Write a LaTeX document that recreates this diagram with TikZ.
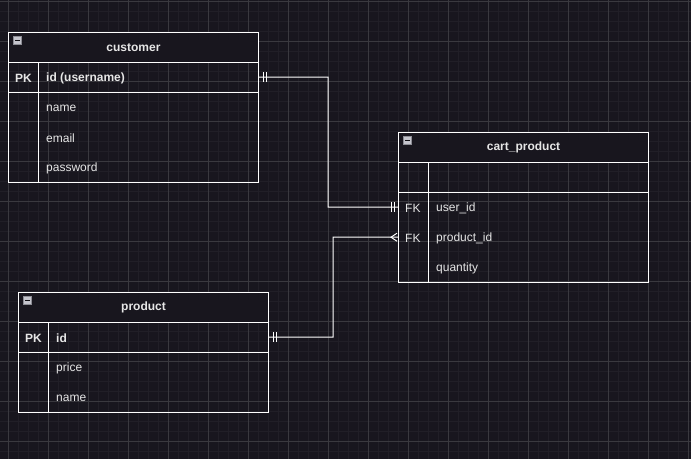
\documentclass[tikz,border=0pt]{standalone}
\usepackage{fontspec}
\setmainfont{Liberation Sans}
\definecolor{bg}{HTML}{18161E}
\definecolor{gmaj}{HTML}{3A393F}
\definecolor{gmin}{HTML}{211F27}
\definecolor{txt}{HTML}{E6E6E6}
\definecolor{icfill}{HTML}{C4C4CC}
\definecolor{icline}{HTML}{8C8C94}
\begin{document}
\begin{tikzpicture}[x=1pt,y=-1pt,
  hdr/.style={draw=white,line width=1pt,fill=bg,minimum width=250pt,minimum height=30pt,anchor=north west,inner sep=0pt,text=txt,font=\bfseries\fontsize{12}{14}\selectfont},
  blk/.style={draw=white,line width=1pt,minimum width=250pt,minimum height=#1,anchor=north west,inner sep=0pt},
  row/.style={minimum width=250pt,minimum height=30pt,anchor=north west,inner sep=0pt},
  keyl/.style={anchor=west,inner sep=0pt,yshift=-1pt,text=txt,font=\fontsize{12}{14}\selectfont},
  attl/.style={anchor=west,inner sep=0pt,yshift=-1pt,text=txt,font=\fontsize{12}{14}\selectfont},
  bkeyl/.style={keyl,font=\bfseries\fontsize{12}{14}\selectfont},
  battl/.style={attl,font=\bfseries\fontsize{12}{14}\selectfont},
  icon/.style={draw=icline,fill=icfill,line width=0.6pt,minimum size=8pt,inner sep=0pt},
  conn/.style={draw=white,line width=1pt},
  tick/.style={draw=white,line width=1pt}
]
\useasboundingbox (0,0) rectangle (691,459);
\fill[bg] (0,0) rectangle (691,459);
% grid
\foreach \x in {-2,8,...,691} \draw[gmin,line width=0.8pt] (\x,0) -- (\x,459);
\foreach \y in {1,11,...,459} \draw[gmin,line width=0.8pt] (0,\y) -- (691,\y);
\foreach \x in {8,48,...,691} \draw[gmaj,line width=0.8pt] (\x,0) -- (\x,459);
\foreach \y in {1,41,...,459} \draw[gmaj,line width=0.8pt] (0,\y) -- (691,\y);

% ---------- customer ----------
\node[hdr] (ch) at (8,32) {customer};
\node[blk=30pt] (cpkb) at (8,62) {};
\node[blk=90pt] (cattb) at (8,92) {};
\draw[white,line width=1pt] ([xshift=30pt]cpkb.north west) -- ([xshift=30pt]cattb.south west);
\node[row] (cpk) at (8,62) {};
\node[row] (cname) at (8,92) {};
\node[row] (cmail) at (8,122) {};
\node[row] (cpass) at (8,152) {};
\node[bkeyl] at ([xshift=7pt]cpk.west) {PK};
\node[battl] at ([xshift=38pt]cpk.west) {id (username)};
\node[attl] at ([xshift=38pt]cname.west) {name};
\node[attl] at ([xshift=38pt]cmail.west) {email};
\node[attl] at ([xshift=38pt]cpass.west) {password};
\node[icon] (cic) at (17.5,40.5) {};
\draw[bg!60!black,line width=1pt] ([xshift=2pt]cic.west) -- ([xshift=-2pt]cic.east);

% ---------- cart_product ----------
\node[hdr] (kh) at (398,132) {cart\_product};
\node[blk=30pt] (kpkb) at (398,162) {};
\node[blk=90pt] (kattb) at (398,192) {};
\draw[white,line width=1pt] ([xshift=30pt]kpkb.north west) -- ([xshift=30pt]kattb.south west);
\node[row] (kuid) at (398,192) {};
\node[row] (kpid) at (398,222) {};
\node[row] (kqty) at (398,252) {};
\node[keyl] at ([xshift=7pt]kuid.west) {FK};
\node[attl] at ([xshift=38pt]kuid.west) {user\_id};
\node[keyl] at ([xshift=7pt]kpid.west) {FK};
\node[attl] at ([xshift=38pt]kpid.west) {product\_id};
\node[attl] at ([xshift=38pt]kqty.west) {quantity};
\node[icon] (kic) at (407.5,140.5) {};
\draw[bg!60!black,line width=1pt] ([xshift=2pt]kic.west) -- ([xshift=-2pt]kic.east);

% ---------- product ----------
\node[hdr] (ph) at (18,292) {product};
\node[blk=30pt] (ppkb) at (18,322) {};
\node[blk=60pt] (pattb) at (18,352) {};
\draw[white,line width=1pt] ([xshift=30pt]ppkb.north west) -- ([xshift=30pt]pattb.south west);
\node[row] (ppk) at (18,322) {};
\node[row] (pprice) at (18,352) {};
\node[row] (pname) at (18,382) {};
\node[bkeyl] at ([xshift=7pt]ppk.west) {PK};
\node[battl] at ([xshift=38pt]ppk.west) {id};
\node[attl] at ([xshift=38pt]pprice.west) {price};
\node[attl] at ([xshift=38pt]pname.west) {name};
\node[icon] (pic) at (27.5,300.5) {};
\draw[bg!60!black,line width=1pt] ([xshift=2pt]pic.west) -- ([xshift=-2pt]pic.east);

% ---------- connectors ----------
\coordinate (b1) at (328,77);
\draw[conn] (cpk.east) -- (b1) |- (kuid.west);
\draw[tick] ([xshift=5pt,yshift=-5pt]cpk.east) -- ([xshift=5pt,yshift=5pt]cpk.east);
\draw[tick] ([xshift=8pt,yshift=-5pt]cpk.east) -- ([xshift=8pt,yshift=5pt]cpk.east);
\draw[tick] ([xshift=-7pt,yshift=-5pt]kuid.west) -- ([xshift=-7pt,yshift=5pt]kuid.west);
\draw[tick] ([xshift=-4pt,yshift=-5pt]kuid.west) -- ([xshift=-4pt,yshift=5pt]kuid.west);

\coordinate (b2) at (333,337);
\draw[conn] (ppk.east) -- (b2) |- (kpid.west);
\draw[tick] ([xshift=5pt,yshift=-5pt]ppk.east) -- ([xshift=5pt,yshift=5pt]ppk.east);
\draw[tick] ([xshift=8pt,yshift=-5pt]ppk.east) -- ([xshift=8pt,yshift=5pt]ppk.east);
\draw[tick] ([xshift=-1pt,yshift=-4pt]kpid.west) -- ([xshift=-7pt]kpid.west) -- ([xshift=-1pt,yshift=4pt]kpid.west);
\end{tikzpicture}
\end{document}
